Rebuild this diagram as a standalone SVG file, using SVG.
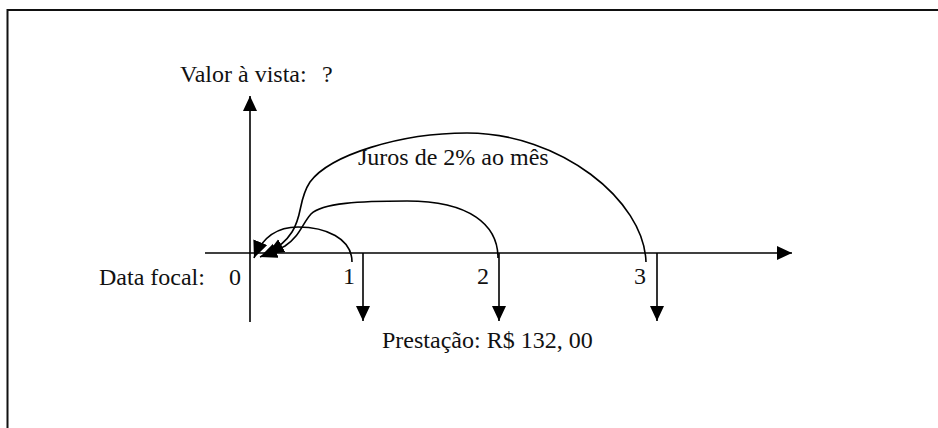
<svg xmlns="http://www.w3.org/2000/svg" width="938" height="428" viewBox="0 0 938 428">
  <defs>
    <style>
      .t { font-family: "Liberation Serif", "Times New Roman", serif; font-size: 24px; fill: #111; }
      .ax { stroke: #000; stroke-width: 1.6; fill: none; }
      .cv { stroke: #000; stroke-width: 1.6; fill: none; }
    </style>
    <marker id="ah" markerUnits="userSpaceOnUse" markerWidth="16" markerHeight="16" refX="15" refY="7" orient="auto">
      <path d="M0,0 L15,7 L0,14 Z" fill="#000"/>
    </marker>
    <marker id="ch" markerUnits="userSpaceOnUse" markerWidth="19" markerHeight="16" refX="17" refY="7.5" orient="auto">
      <path d="M0,0 L17,7.5 L0,15 Z" fill="#000"/>
    </marker>
  </defs>
  <rect width="938" height="428" fill="#fff"/>
  <rect x="7.5" y="10" width="940" height="430" fill="none" stroke="#111" stroke-width="2"/>

  <g id="connectors">
    <line class="ax" x1="250" y1="322" x2="250" y2="96" marker-end="url(#ah)"/>
    <line class="ax" x1="205" y1="253" x2="792" y2="253" marker-end="url(#ah)"/>
    <line class="ax" x1="363" y1="253" x2="363" y2="321" marker-end="url(#ah)"/>
    <line class="ax" x1="499" y1="253" x2="499" y2="321" marker-end="url(#ah)"/>
    <line class="ax" x1="657" y1="253" x2="657" y2="321" marker-end="url(#ah)"/>
    <path class="cv" d="M352,262 C352,238 325,227 298,227 C276,227 262,238 254,258" marker-end="url(#ch)"/>
    <path class="cv" d="M498,258 C498,225 470,201 407,201 C360,201 322,203 311,214 C302,224 300,236 285,246 C278,250 270,253 260,257" marker-end="url(#ch)"/>
    <path class="cv" d="M646,262 C644,200 560,133 467,133 C400,133 330,155 310,182 C298,200 303,215 292,232 C285,243 276,249 267,254" marker-end="url(#ch)"/>
  </g>

  <g id="valor"><text class="t" x="180" y="82">Valor à vista:</text><text class="t" x="322" y="82">?</text></g>
  <g id="juros"><text class="t" x="358" y="165">Juros de 2% ao mês</text></g>
  <g id="datafocal"><text class="t" x="99" y="285">Data focal:</text><text class="t" x="229" y="285">0</text></g>
  <g id="p1"><text class="t" x="343" y="284">1</text></g>
  <g id="p2"><text class="t" x="477" y="284">2</text></g>
  <g id="p3"><text class="t" x="634" y="284">3</text></g>
  <g id="prestacao"><text class="t" x="382" y="348">Prestação: R$ 132, 00</text></g>
</svg>
